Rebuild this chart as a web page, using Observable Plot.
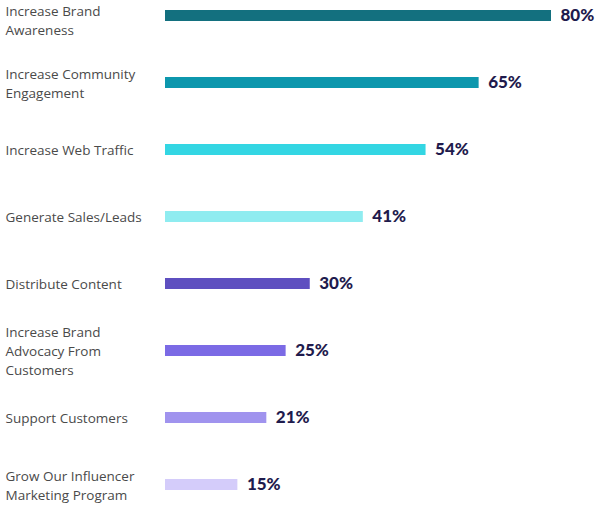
<!DOCTYPE html>
<html>
<head>
<meta charset="utf-8">
<script src="https://cdn.jsdelivr.net/npm/d3@7"></script>
<script src="https://cdn.jsdelivr.net/npm/@observablehq/plot@0.6"></script>
<style>
  html, body { margin: 0; padding: 0; background: #fff; }
  #chart svg { display: block; }
</style>
</head>
<body>
<div id="chart"></div>
<script>
const categories = [
  "Increase Brand\nAwareness",
  "Increase Community\nEngagement",
  "Increase Web Traffic",
  "Generate Sales/Leads",
  "Distribute Content",
  "Increase Brand\nAdvocacy From\nCustomers",
  "Support Customers",
  "Grow Our Influencer\nMarketing Program"
];
const values = [80, 65, 54, 41, 30, 25, 21, 15];
const colors = ["#13707f", "#0d97ad", "#33d6e3", "#8fecf0", "#5e4fc0", "#7b6ae5", "#a093ee", "#d4ccfa"];

const data = categories.map((c, i) => ({category: c, value: values[i], color: colors[i]}));

const labelStyle = {
  y: "category", text: "category", frameAnchor: "left", textAnchor: "start",
  dx: 5, fontSize: 13.5, lineHeight: 1.42, lineAnchor: "middle", fill: "#4a4a4a"
};

const chart = Plot.plot({
  width: 600,
  height: 511,
  margin: 0,
  style: {fontFamily: "'Open Sans', sans-serif", background: "#fff"},
  x: {domain: [0, 80], range: [165, 551], axis: null},
  y: {domain: categories, range: [9, 491], paddingInner: 0.8365, paddingOuter: 0, axis: null},
  marks: [
    Plot.barX(data, {x1: 0, x2: "value", y: "category", fill: "color"}),
    Plot.text(data.slice(0, 1), {...labelStyle, dy: 3}),
    Plot.text(data.slice(1), {...labelStyle, dy: -1}),
    Plot.text(data, {
      x: "value", y: "category", text: d => d.value + "%", textAnchor: "start",
      dx: 9, fontSize: 17, fontWeight: 900, fill: "#1f1b4d", fontFamily: "Lato, sans-serif"
    })
  ]
});
document.getElementById("chart").append(chart);
</script>
</body>
</html>
